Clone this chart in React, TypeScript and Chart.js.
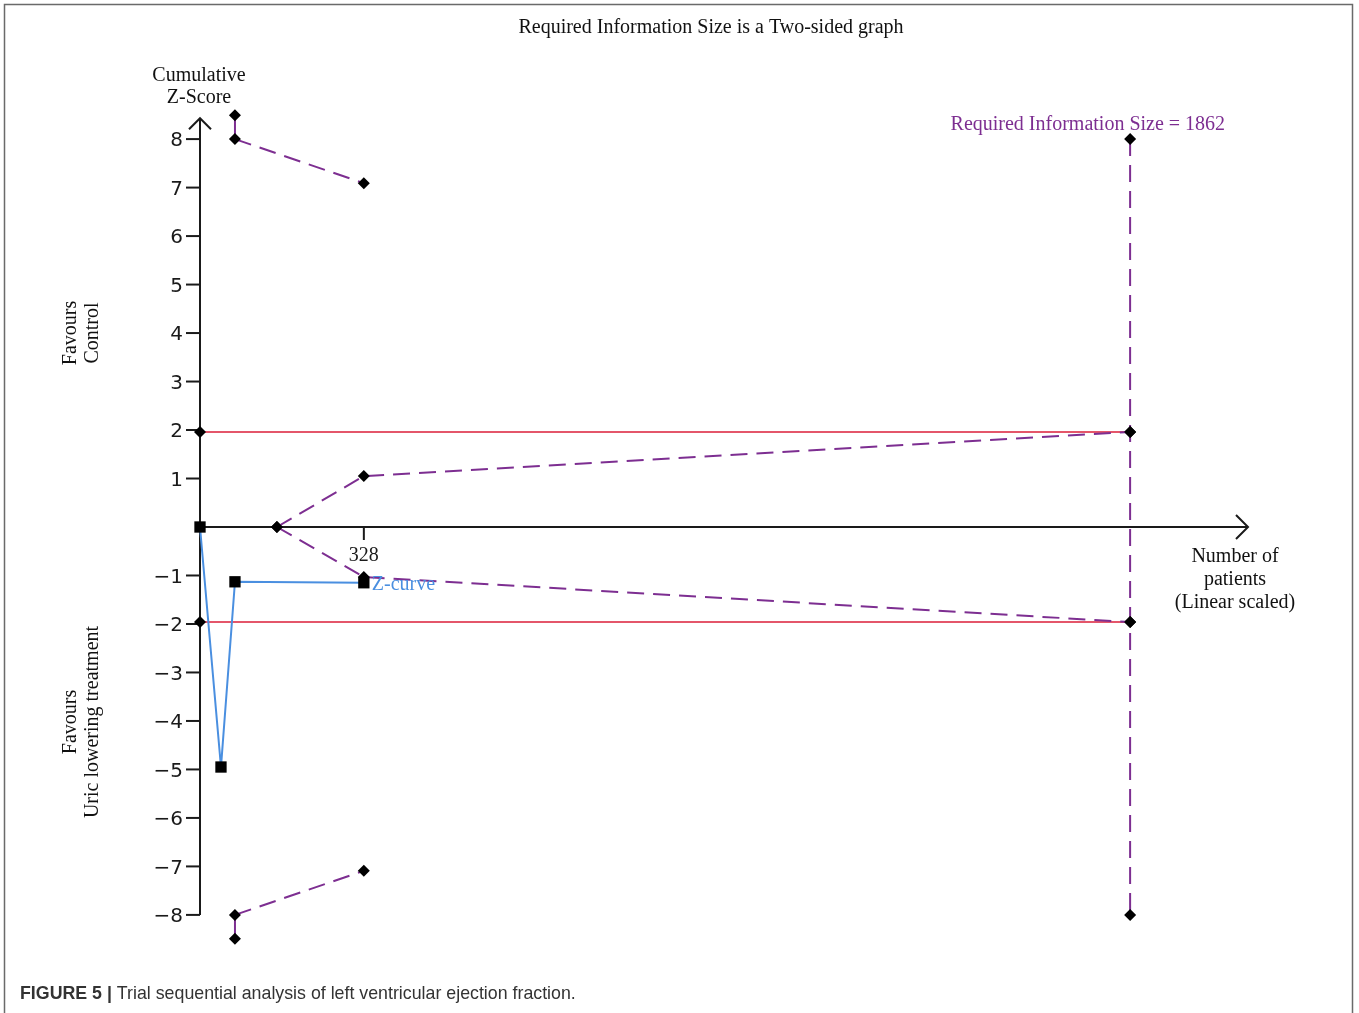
import React, { useEffect, useRef } from "react";
import { Chart, registerables } from "chart.js";

Chart.register(...registerables);

// ---- data ----
const zCurveX = [0, 42, 70, 328];
const zCurveY = [0, -4.95, -1.13, -1.15];

const upperBoundX = [70, 70, 328];
const upperBoundY = [8.49, 8.0, 7.09];
const lowerBoundX = [70, 70, 328];
const lowerBoundY = [-8.49, -8.0, -7.09];

const upperFutilityX = [154, 328, 1862];
const upperFutilityY = [0, 1.05, 1.96];
const lowerFutilityX = [154, 328, 1862];
const lowerFutilityY = [0, -1.03, -1.96];

const conventionalX = [0, 1862];
const conventionalUpperY = [1.96, 1.96];
const conventionalLowerY = [-1.96, -1.96];

const risX = [1862, 1862, 1862, 1862];
const risY = [8, 1.96, -1.96, -8];

const requiredInformationSize = 1862;
const xTickValues = [328];
const yTickValues = [8, 7, 6, 5, 4, 3, 2, 1, -1, -2, -3, -4, -5, -6, -7, -8];
const xMin = 0;
const xMax = 2098;
const yMin = -8.6;
const yMax = 8.6;
const yAxisBottom = -8;
const yAxisTop = 8.43;

const titleText = "Required Information Size is a Two-sided graph";
const yAxisTitle = ["Cumulative", "Z-Score"];
const xAxisTitle = ["Number of", "patients", "(Linear scaled)"];
const upperSideLabel = ["Favours", "Control"];
const lowerSideLabel = ["Favours", "Uric lowering treatment"];
const risLabel = `Required Information Size = ${requiredInformationSize}`;
const zCurveLabel = "Z-curve";
const captionBold = "FIGURE 5 |";
const captionText = " Trial sequential analysis of left ventricular ejection fraction.";

// ---- styles ----
const PURPLE = "#7d2e91";
const RED = "#e4566a";
const BLUE = "#4a8fe0";
const AXIS = "#1a1a1a";
const DASH = [17, 9];
const SERIF = '"Liberation Serif", "Times New Roman", serif';
const SANS = '"DejaVu Sans", sans-serif';

const pts = (xs: number[], ys: number[]) => xs.map((x, i) => ({ x, y: ys[i] }));

const decor = {
  id: "decor",
  beforeDraw(chart: any) {
    const { ctx, width, height } = chart;
    ctx.save();
    ctx.fillStyle = "#ffffff";
    ctx.fillRect(0, 0, width, height);
    ctx.strokeStyle = "#6a6a6a";
    ctx.lineWidth = 1.5;
    ctx.beginPath();
    ctx.moveTo(4.5, height);
    ctx.lineTo(4.5, 4.5);
    ctx.lineTo(1352.5, 4.5);
    ctx.lineTo(1352.5, height);
    ctx.stroke();
    ctx.restore();
  },
  beforeDatasetsDraw(chart: any) {
    const { ctx, chartArea } = chart;
    const xs = chart.scales.x;
    const ys = chart.scales.y;
    const x0 = xs.getPixelForValue(0);
    const y0 = ys.getPixelForValue(0);
    ctx.save();
    ctx.strokeStyle = AXIS;
    ctx.lineWidth = 2;
    ctx.lineCap = "butt";
    // y axis
    const yBottom = ys.getPixelForValue(yAxisBottom);
    const yTop = ys.getPixelForValue(yAxisTop);
    ctx.beginPath();
    ctx.moveTo(x0, yBottom);
    ctx.lineTo(x0, yTop);
    ctx.stroke();
    ctx.beginPath();
    ctx.moveTo(x0 - 11, yTop + 11);
    ctx.lineTo(x0, yTop);
    ctx.lineTo(x0 + 11, yTop + 11);
    ctx.stroke();
    // x axis
    const xRight = chartArea.right;
    ctx.beginPath();
    ctx.moveTo(x0, y0);
    ctx.lineTo(xRight, y0);
    ctx.stroke();
    ctx.beginPath();
    ctx.moveTo(xRight - 12, y0 - 12);
    ctx.lineTo(xRight, y0);
    ctx.lineTo(xRight - 12, y0 + 12);
    ctx.stroke();
    // y ticks
    ctx.fillStyle = AXIS;
    ctx.font = `20px ${SANS}`;
    ctx.textAlign = "right";
    ctx.textBaseline = "middle";
    yTickValues.forEach((v) => {
      const py = ys.getPixelForValue(v);
      ctx.beginPath();
      ctx.moveTo(x0 - 14, py);
      ctx.lineTo(x0, py);
      ctx.stroke();
      const label = v < 0 ? `\u2212${Math.abs(v)}` : String(v);
      ctx.fillText(label, x0 - 17, py + 2);
    });
    // x ticks
    ctx.font = `20px ${SERIF}`;
    ctx.textAlign = "center";
    xTickValues.forEach((v) => {
      const px = xs.getPixelForValue(v);
      ctx.beginPath();
      ctx.moveTo(px, y0);
      ctx.lineTo(px, y0 + 13);
      ctx.stroke();
      ctx.fillText(String(v), px, y0 + 29);
    });
    ctx.restore();
  },
  afterDraw(chart: any) {
    const { ctx } = chart;
    const xs = chart.scales.x;
    const ys = chart.scales.y;
    ctx.save();
    ctx.textBaseline = "middle";
    // title
    ctx.fillStyle = "#111111";
    ctx.font = `20px ${SERIF}`;
    ctx.textAlign = "center";
    ctx.fillText(titleText, 711, 28);
    // y axis title
    ctx.fillText(yAxisTitle[0], 199, 76);
    ctx.fillText(yAxisTitle[1], 199, 98);
    // x axis title
    ctx.fillText(xAxisTitle[0], 1235, 557);
    ctx.fillText(xAxisTitle[1], 1235, 580);
    ctx.fillText(xAxisTitle[2], 1235, 603);
    // side labels (rotated)
    const rotated = (lines: string[], cy: number) => {
      ctx.save();
      ctx.translate(82, cy);
      ctx.rotate(-Math.PI / 2);
      ctx.textAlign = "center";
      ctx.fillText(lines[0], 0, -11);
      ctx.fillText(lines[1], 0, 11);
      ctx.restore();
    };
    rotated(upperSideLabel, 333);
    rotated(lowerSideLabel, 722);
    // RIS label
    ctx.fillStyle = PURPLE;
    ctx.textAlign = "right";
    ctx.fillText(risLabel, xs.getPixelForValue(requiredInformationSize) + 95, ys.getPixelForValue(8) - 14);
    // Z-curve label
    ctx.fillStyle = BLUE;
    ctx.textAlign = "left";
    ctx.fillText(zCurveLabel, xs.getPixelForValue(zCurveX[3]) + 8, ys.getPixelForValue(zCurveY[3]) + 2);
    // caption
    ctx.textBaseline = "alphabetic";
    ctx.fillStyle = "#333333";
    ctx.font = `bold 17.8px "Liberation Sans", Arial, sans-serif`;
    ctx.fillText(captionBold, 20, 999);
    const w = ctx.measureText(captionBold).width;
    ctx.font = `17.8px "Liberation Sans", Arial, sans-serif`;
    ctx.fillText(captionText, 20 + w, 999);
    ctx.restore();
  },
};

export default function App() {
  const ref = useRef<HTMLCanvasElement | null>(null);
  useEffect(() => {
    if (!ref.current) return;
    const diamond = {
      pointStyle: "rectRot" as const,
      pointRadius: 6,
      pointBackgroundColor: "#000000",
      pointBorderColor: "#000000",
      pointBorderWidth: 0,
    };
    const chart = new Chart(ref.current, {
      type: "scatter",
      data: {
        datasets: [
          {
            label: "Z-curve",
            data: pts(zCurveX, zCurveY),
            showLine: true,
            borderColor: BLUE,
            borderWidth: 2,
            pointStyle: "rect",
            pointRadius: 8,
            pointBackgroundColor: "#000000",
            pointBorderColor: "#000000",
            pointBorderWidth: 0,
            clip: false,
          } as any,
          {
            label: "Upper boundary",
            data: pts(upperBoundX, upperBoundY),
            showLine: true,
            borderColor: PURPLE,
            borderWidth: 2,
            borderDash: DASH,
            segment: { borderDash: (c: any) => (c.p0DataIndex === 0 ? [] : DASH) },
            ...diamond,
            clip: false,
          } as any,
          {
            label: "Lower boundary",
            data: pts(lowerBoundX, lowerBoundY),
            showLine: true,
            borderColor: PURPLE,
            borderWidth: 2,
            borderDash: DASH,
            segment: { borderDash: (c: any) => (c.p0DataIndex === 0 ? [] : DASH) },
            ...diamond,
            clip: false,
          } as any,
          {
            label: "Upper futility",
            data: pts(upperFutilityX, upperFutilityY),
            showLine: true,
            borderColor: PURPLE,
            borderWidth: 2,
            borderDash: DASH,
            ...diamond,
            clip: false,
          } as any,
          {
            label: "Lower futility",
            data: pts(lowerFutilityX, lowerFutilityY),
            showLine: true,
            borderColor: PURPLE,
            borderWidth: 2,
            borderDash: DASH,
            ...diamond,
            clip: false,
          } as any,
          {
            label: "RIS",
            data: pts(risX, risY),
            showLine: true,
            borderColor: PURPLE,
            borderWidth: 2,
            borderDash: DASH,
            ...diamond,
            clip: false,
          } as any,
          {
            label: "Conventional upper",
            data: pts(conventionalX, conventionalUpperY),
            showLine: true,
            borderColor: RED,
            borderWidth: 2,
            ...diamond,
            pointRadius: [6, 0],
            clip: false,
          } as any,
          {
            label: "Conventional lower",
            data: pts(conventionalX, conventionalLowerY),
            showLine: true,
            borderColor: RED,
            borderWidth: 2,
            ...diamond,
            pointRadius: [6, 0],
            clip: false,
          } as any,
        ],
      },
      options: {
        responsive: false,
        animation: false,
        layout: { padding: { left: 200, right: 111, top: 110, bottom: 69 } },
        plugins: { legend: { display: false }, tooltip: { enabled: false } },
        scales: {
          x: { type: "linear", min: xMin, max: xMax, display: false },
          y: { type: "linear", min: yMin, max: yMax, display: false },
        },
      },
      plugins: [decor],
    });
    return () => chart.destroy();
  }, []);
  return (
    <div style={{ position: "absolute", left: 0, top: 0, width: 1359, height: 1013 }}>
      <canvas ref={ref} width={1359} height={1013} style={{ display: "block" }} />
    </div>
  );
}
